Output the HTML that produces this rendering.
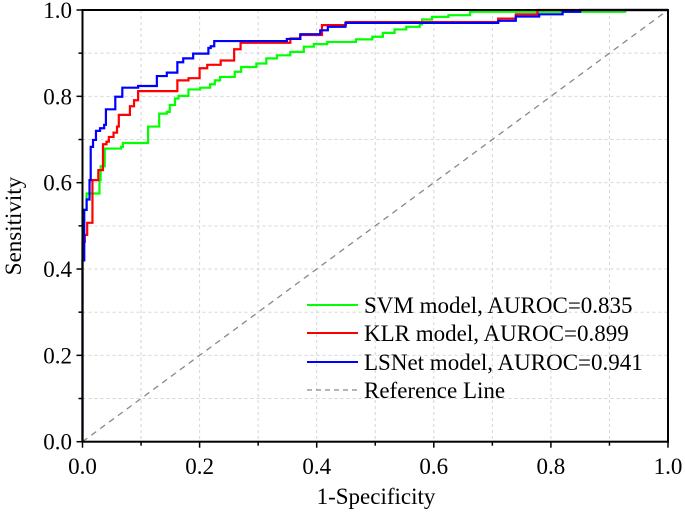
<!DOCTYPE html>
<html><head><meta charset="utf-8"><style>
html,body{margin:0;padding:0;background:#fff;}
svg{display:block;font-family:"Liberation Serif",serif;}
</style></head><body>
<svg id="chart" width="685" height="516" viewBox="0 0 685 516" xmlns="http://www.w3.org/2000/svg">
<g id="grid"></g>
<g id="series"></g>
<g id="axes"></g>
<text x="376" y="504" font-size="23" text-anchor="middle">1-Specificity</text>
<text x="0" y="0" font-size="23" text-anchor="middle" transform="translate(21,226) rotate(-90)">Sensitivity</text>
<g font-size="23">
  <line x1="307" y1="305" x2="358" y2="305" stroke="#00ff00" stroke-width="2"/>
  <text x="364" y="313">SVM model, AUROC=0.835</text>
  <line x1="307" y1="333" x2="358" y2="333" stroke="#ff0000" stroke-width="2"/>
  <text x="364" y="341">KLR model, AUROC=0.899</text>
  <line x1="307" y1="362" x2="358" y2="362" stroke="#0000ff" stroke-width="2"/>
  <text x="364" y="370">LSNet model, AUROC=0.941</text>
  <line x1="307" y1="390" x2="358" y2="390" stroke="#888" stroke-width="1.3" stroke-dasharray="5,4"/>
  <text x="364" y="398">Reference Line</text>
</g>
</svg>
<script>
const xTicks = [0, 0.2, 0.4, 0.6, 0.8, 1.0];
const yTicks = [0, 0.2, 0.4, 0.6, 0.8, 1.0];
const tickLabels = ["0.0","0.2","0.4","0.6","0.8","1.0"];
const svmFpr = [0,0,0.007,0.029,0.031,0.038,0.066,0.069,0.112,0.131,0.144,0.149,0.158,0.164,0.181,0.201,0.218,0.226,0.235,0.260,0.271,0.297,0.314,0.332,0.355,0.378,0.395,0.418,0.467,0.495,0.513,0.533,0.553,0.576,0.580,0.597,0.625,0.662,0.927,1.0];
const svmTpr = [0,0.537,0.575,0.606,0.638,0.679,0.683,0.692,0.730,0.760,0.764,0.780,0.795,0.801,0.816,0.820,0.828,0.837,0.845,0.857,0.868,0.876,0.888,0.895,0.903,0.915,0.921,0.926,0.932,0.938,0.947,0.955,0.961,0.967,0.978,0.984,0.988,0.996,1.0,1.0];
const klrFpr = [0,0,0.004,0.008,0.017,0.027,0.035,0.041,0.045,0.053,0.059,0.062,0.081,0.088,0.095,0.162,0.181,0.200,0.213,0.236,0.259,0.270,0.355,0.372,0.409,0.45,0.71,0.74,0.777,1.0];
const klrTpr = [0,0.463,0.479,0.507,0.606,0.629,0.689,0.695,0.706,0.716,0.730,0.757,0.777,0.791,0.812,0.837,0.842,0.865,0.873,0.883,0.909,0.924,0.934,0.942,0.965,0.972,0.980,0.990,1.0,1.0];
const lsnetFpr = [0,0,0.003,0.007,0.012,0.014,0.018,0.023,0.030,0.037,0.040,0.056,0.068,0.095,0.127,0.144,0.162,0.172,0.189,0.215,0.219,0.225,0.349,0.372,0.406,0.419,0.449,0.71,0.74,0.78,0.82,0.85,1.0];
const lsnetTpr = [0,0.42,0.537,0.561,0.606,0.683,0.699,0.720,0.726,0.734,0.770,0.799,0.820,0.824,0.847,0.855,0.879,0.888,0.899,0.912,0.916,0.928,0.933,0.944,0.953,0.961,0.970,0.975,0.985,0.990,0.996,1.0,1.0];

const NS = "http://www.w3.org/2000/svg";
const X0 = 82.5, X1 = 668, Y0 = 441.7, Y1 = 10;
const sx = v => X0 + v * (X1 - X0);
const sy = v => Y0 - v * (Y0 - Y1);
function mk(tag, attrs, parent) {
  const e = document.createElementNS(NS, tag);
  for (const k in attrs) e.setAttribute(k, attrs[k]);
  parent.appendChild(e);
  return e;
}
const grid = document.getElementById('grid');
for (let i = 1; i < 10; i++) {
  const v = i / 10;
  const gx = mk('line', {x1: sx(v), y1: Y1, x2: sx(v), y2: Y0, stroke: '#d6d6d6', 'stroke-width': 1, 'stroke-dasharray': '3,3'}, grid);
  
  
  const gy = mk('line', {x1: X0, y1: sy(v), x2: X1, y2: sy(v), stroke: '#d6d6d6', 'stroke-width': 1, 'stroke-dasharray': '3,3'}, grid);
  
  
}
const series = document.getElementById('series');
const ref = mk('line', {x1: sx(0), y1: sy(0), x2: sx(1), y2: sy(1), stroke: '#888', 'stroke-width': 1.3, 'stroke-dasharray': '6,5'}, series);


function stepPath(fx, ty) {
  let d = 'M' + sx(fx[0]) + ',' + sy(ty[0]);
  for (let i = 1; i < fx.length; i++) d += ' H' + sx(fx[i]) + ' V' + sy(ty[i]);
  return d;
}
const s1 = mk('path', {d: stepPath(svmFpr, svmTpr), fill: 'none', stroke: '#00ff00', 'stroke-width': 2.2}, series);


const s2 = mk('path', {d: stepPath(klrFpr, klrTpr), fill: 'none', stroke: '#ff0000', 'stroke-width': 2.2}, series);


const s3 = mk('path', {d: stepPath(lsnetFpr, lsnetTpr), fill: 'none', stroke: '#0000ff', 'stroke-width': 2.2}, series);



const axes = document.getElementById('axes');
const frame = mk('rect', {x: X0, y: Y1, width: X1 - X0, height: Y0 - Y1, fill: 'none', stroke: '#000', 'stroke-width': 2}, axes);


for (let i = 0; i <= 10; i++) {
  const v = i / 10, len = (i % 2 === 0) ? 6 : 4;
  const tx = mk('line', {x1: sx(v), y1: Y0, x2: sx(v), y2: Y0 + len, stroke: '#000', 'stroke-width': 1.5}, axes);
  
  
  const ty = mk('line', {x1: X0, y1: sy(v), x2: X0 - len, y2: sy(v), stroke: '#000', 'stroke-width': 1.5}, axes);
  
  
}
xTicks.forEach((v, i) => {
  const t = mk('text', {x: sx(v), y: 474, 'font-size': 23, 'text-anchor': 'middle'}, axes);
  t.textContent = tickLabels[i];
  
  
});
yTicks.forEach((v, i) => {
  const t = mk('text', {x: 72, y: sy(v) + 8, 'font-size': 23, 'text-anchor': 'end'}, axes);
  t.textContent = tickLabels[i];
  
  
});
</script>
</body></html>
